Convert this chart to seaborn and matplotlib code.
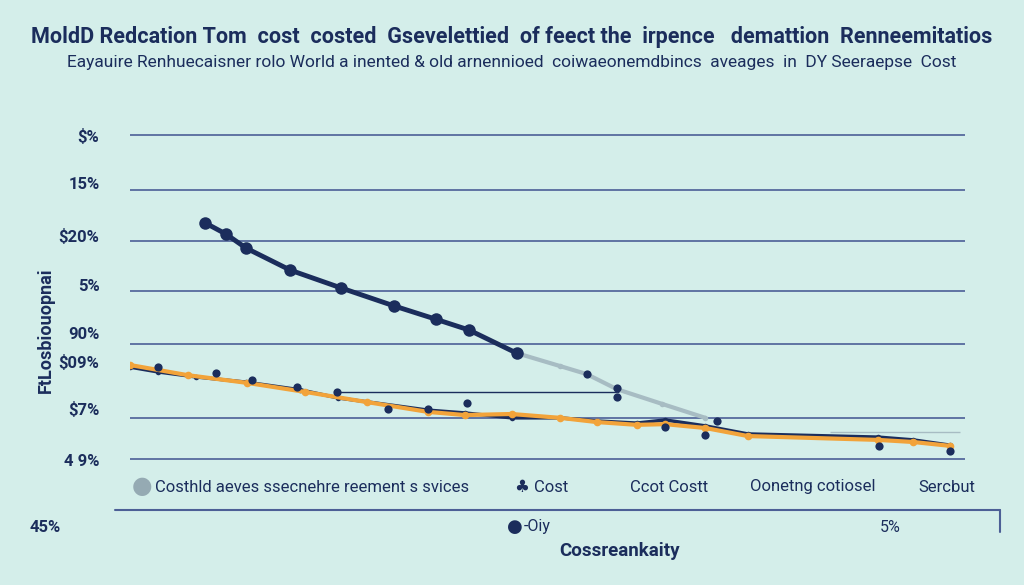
import matplotlib
matplotlib.use("Agg")
import matplotlib.pyplot as plt
from matplotlib.lines import Line2D
import seaborn as sns

# values (x: 0-100 along the axis, y: 0-100 score)
steep_x = [9.0, 11.5, 13.9, 19.2, 25.3, 31.6, 36.6, 40.6, 46.3]
steep_y = [70.6, 67.4, 63.4, 57.1, 52.0, 46.9, 43.1, 40.0, 33.4]

gray_x = [46.3, 51.5, 54.7, 58.3, 63.7, 68.9]
gray_y = [33.4, 29.7, 27.4, 23.1, 18.9, 14.9]

navy_x = [0, 3.4, 7.9, 13.9, 20.4, 24.9, 35.7, 40.1, 45.7, 51.5, 55.9, 60.7, 64.1, 68.9, 74.0, 89.6, 93.8, 98.2]
navy_y = [29.4, 28.0, 26.6, 25.1, 22.9, 20.6, 17.1, 16.3, 14.9, 14.9, 14.0, 13.4, 14.3, 12.6, 10.3, 9.4, 8.6, 7.1]

orange_x = [0, 6.9, 14.0, 21.0, 28.4, 35.7, 40.1, 45.7, 51.5, 55.9, 60.7, 64.1, 68.9, 74.0, 89.6, 93.8, 98.2]
orange_y = [30.0, 27.1, 24.9, 22.3, 19.4, 16.6, 15.7, 16.0, 14.9, 13.7, 12.9, 13.1, 12.0, 9.7, 8.6, 8.0, 6.9]

dots_x = [3.4, 10.3, 14.6, 20.0, 24.8, 30.9, 35.7, 40.4, 54.7, 58.3, 58.3, 70.3, 64.1, 68.9, 89.7, 98.2]
dots_y = [29.4, 27.7, 25.7, 23.7, 22.3, 17.4, 17.4, 19.1, 27.4, 23.4, 20.9, 14.0, 12.3, 10.0, 6.9, 5.4]

# thin stray lines in the plot
stray_y = [22.3, 10.9]
stray_x0 = [24.8, 83.8]
stray_x1 = [58.6, 99.4]

grid_values = [95.7, 80.0, 65.4, 51.1, 36.0, 14.9, 3.1]
label_values = [95.7, 82.0, 67.1, 52.9, 39.1, 30.9, 17.7, 2.9]
label_texts = ["$%", "15%", "$20%", "5%", "90%", "$09%", "$7%", "4 9%"]

legend_texts = ["Costhld aeves ssecnehre reement s svices", "♣ Cost", "Ccot Costt",
                "Oonetng cotiosel", "Sercbut"]

title = "MoldD Redcation Tom  cost  costed  Gsevelettied  of feect the  irpence   demattion  Renneemitatios"
subtitle = "Eayauire Renhuecaisner rolo World a inented & old arnennioed  coiwaeonemdbincs  aveages  in  DY Seeraepse  Cost"

BG = "#d4eeea"
NAVY = "#1b2d5c"
ORANGE = "#f2a33a"
GRAY = "#a7bcc3"
GRID = "#4c5f96"

sns.set_style("white", {"axes.facecolor": BG, "figure.facecolor": BG})
plt.rcParams["font.family"] = ["Roboto", "DejaVu Sans"]

fig = plt.figure(figsize=(10.24, 5.85), dpi=100)
ax = fig.add_axes([130 / 1024, 1 - 470 / 585, 835 / 1024, 350 / 585])
ax.set_xlim(0, 100)
ax.set_ylim(0, 100)

for gv in grid_values:
    ax.axhline(gv, color=GRID, lw=1.2, zorder=1)
ax.hlines(stray_y, stray_x0, stray_x1, colors=[NAVY, GRAY], lw=1.0, zorder=1)

sns.lineplot(x=gray_x, y=gray_y, ax=ax, color=GRAY, lw=3, marker="o", markersize=4,
             markeredgewidth=0, zorder=2)
sns.lineplot(x=steep_x, y=steep_y, ax=ax, color=NAVY, lw=3.5, marker="o", markersize=9,
             markeredgewidth=0, zorder=3)
sns.lineplot(x=navy_x, y=navy_y, ax=ax, color=NAVY, lw=2.5, marker="o", markersize=4,
             markeredgewidth=0, zorder=3)
sns.lineplot(x=orange_x, y=orange_y, ax=ax, color=ORANGE, lw=3, marker="o", markersize=5.5,
             markeredgewidth=0, zorder=4)
sns.scatterplot(x=dots_x, y=dots_y, ax=ax, color=NAVY, s=35, linewidth=0, zorder=5)

ax.set_yticks(label_values)
ax.set_yticklabels(label_texts, fontsize=12, color=NAVY, fontweight="bold")
ax.tick_params(axis="y", length=0, pad=22)
ax.set_xticks([])
ax.grid(False)
for side in ax.spines.values():
    side.set_visible(False)
ax.set_ylabel("FtLosbiouopnai", fontsize=13, color=NAVY, fontweight="bold", labelpad=2)
ax.yaxis.set_label_coords(-0.09, 0.4)

fig.text(0.5, 1 - 37 / 585, title, ha="center", va="center", fontsize=15.5,
         fontweight="bold", color=NAVY)
fig.text(0.5, 1 - 63 / 585, subtitle, ha="center", va="center", fontsize=12.5, color=NAVY)

# legend row
fig.text(142 / 1024, 1 - 487 / 585, "●", ha="center", va="center", fontsize=17, color="#95aab3")
leg_x = [155, 515, 630, 750, 918]
for lx, lt in zip(leg_x, legend_texts):
    fig.text(lx / 1024, 1 - 487 / 585, lt, ha="left", va="center", fontsize=12, color=NAVY)

# bottom axis line
fig.add_artist(Line2D([115 / 1024, 1000 / 1024], [1 - 510 / 585, 1 - 510 / 585], color=GRID, lw=1.5))
fig.add_artist(Line2D([1000 / 1024, 1000 / 1024], [1 - 510 / 585, 1 - 532 / 585], color=GRID, lw=1.5))

fig.text(30 / 1024, 1 - 527 / 585, "45%", ha="left", va="center", fontsize=12, color=NAVY,
         fontweight="bold")
fig.text(507 / 1024, 1 - 527 / 585, "●", ha="left", va="center", fontsize=13, color=NAVY)
fig.text(524 / 1024, 1 - 527 / 585, "-Oiy", ha="left", va="center", fontsize=11.5, color=NAVY)
fig.text(880 / 1024, 1 - 527 / 585, "5%", ha="left", va="center", fontsize=11.5, color=NAVY)
fig.text(620 / 1024, 1 - 551 / 585, "Cossreankaity", ha="center", va="center", fontsize=13.5,
         fontweight="bold", color=NAVY)

fig.savefig("out.png", dpi=100, facecolor=BG)
